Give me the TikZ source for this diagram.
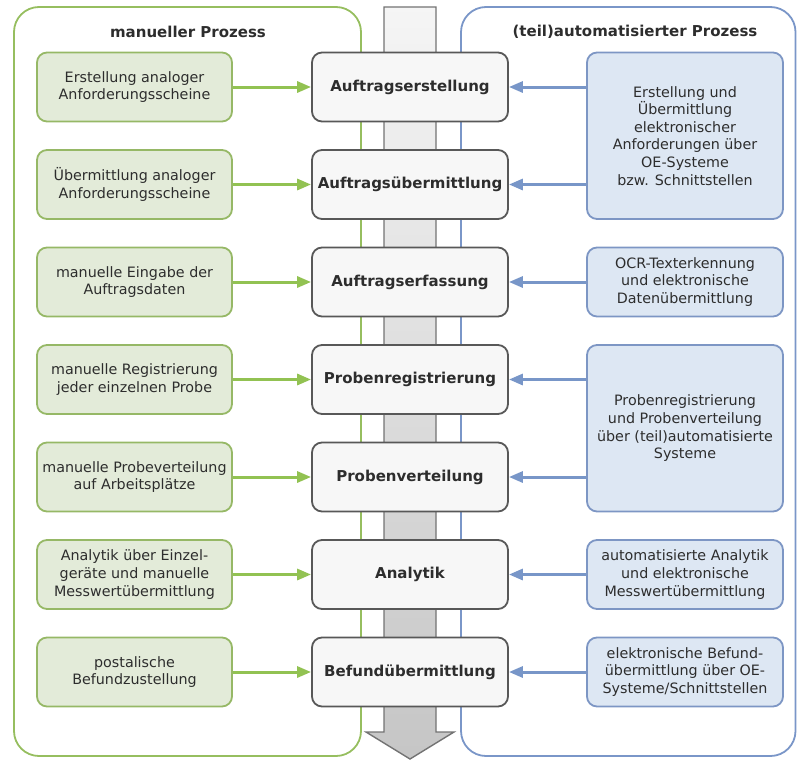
\documentclass[tikz,border=0pt]{standalone}
\usepackage{fontspec}
\setmainfont{DejaVu Sans}
\usetikzlibrary{arrows.meta}

\definecolor{frameGreen}{RGB}{150,190,95}
\definecolor{fillGreen}{RGB}{227,235,217}
\definecolor{drawGreen}{RGB}{150,184,102}
\definecolor{arrowGreen}{RGB}{146,194,82}
\definecolor{frameBlue}{RGB}{122,150,200}
\definecolor{fillBlue}{RGB}{221,231,243}
\definecolor{drawBlue}{RGB}{125,150,196}
\definecolor{arrowBlue}{RGB}{120,150,200}
\definecolor{fillStage}{RGB}{247,247,247}
\definecolor{drawStage}{RGB}{88,88,88}
\definecolor{textGrey}{RGB}{45,45,45}

\tikzset{
  every node/.style={text=textGrey, align=center, inner sep=2pt},
  small/.style={font=\fontsize{14.3}{17.6}\selectfont},
  stage/.style={font=\fontsize{15}{18}\selectfont\bfseries, draw=drawStage, line width=1.8pt,
    fill=fillStage, rounded corners=10pt, minimum width=196pt, minimum height=69pt},
  manual/.style={small, draw=drawGreen, line width=1.8pt, fill=fillGreen,
    rounded corners=10pt, minimum width=195pt, minimum height=69pt},
  auto/.style={small, draw=drawBlue, line width=1.8pt, fill=fillBlue,
    rounded corners=10pt, minimum width=196pt, minimum height=69pt},
  title/.style={font=\fontsize{15}{18}\selectfont\bfseries},
  greenarrow/.style={-{Triangle[length=14pt,width=11pt]}, line width=3pt, draw=arrowGreen},
  bluearrow/.style={-{Triangle[length=14pt,width=11pt]}, line width=3pt, draw=arrowBlue}
}

\begin{document}
\begin{tikzpicture}[x=1pt,y=-1pt]
  \useasboundingbox (0,0) rectangle (797,760);

  % frames
  \draw [frameGreen, line width=1.8pt, rounded corners=25pt] (14,7) rectangle (361,756);
  \draw [frameBlue, line width=1.8pt, rounded corners=25pt] (461,7) rectangle (795.5,756);

  % big grey arrow
  \shadedraw [top color=gray!8, bottom color=gray!45, draw=gray!90!black, line width=1.4pt]
    (384,7) -- (436,7) -- (436,732) -- (454,732) -- (410,759) -- (366,732) -- (384,732) -- cycle;

  \node [title] (mtitle) at (188,32) {manueller Prozess};
  \node [title] (atitle) at (635,32) {(teil)automatisierter Prozess};

  % stages
  \node [stage] (erst) at (410,87) {Auftragserstellung};
  \node [stage] (uebm) at (410,184.5) {Auftragsübermittlung};
  \node [stage] (erf) at (410,282) {Auftragserfassung};
  \node [stage] (reg) at (410,379.5) {Probenregistrierung};
  \node [stage] (vert) at (410,477) {Probenverteilung};
  \node [stage] (ana) at (410,574.5) {Analytik};
  \node [stage] (bef) at (410,672) {Befundübermittlung};

  % manual side
  \node [manual] (m1) at (134.5,87) {Erstellung analoger\\Anforderungsscheine};
  \node [manual] (m2) at (134.5,184.5) {Übermittlung analoger\\Anforderungsscheine};
  \node [manual] (m3) at (134.5,282) {manuelle Eingabe der\\Auftragsdaten};
  \node [manual] (m4) at (134.5,379.5) {manuelle Registrierung\\jeder einzelnen Probe};
  \node [manual] (m5) at (134.5,477) {manuelle Probeverteilung\\auf Arbeitsplätze};
  \node [manual] (m6) at (134.5,574.5) {Analytik über Einzel-\\geräte und manuelle\\Messwertübermittlung};
  \node [manual] (m7) at (134.5,672) {postalische\\Befundzustellung};

  % automated side
  \node [auto, minimum height=166.5pt] (a1) at (685,135.75) {Erstellung und\\Übermittlung\\elektronischer\\Anforderungen über\\OE-Systeme\\bzw. Schnittstellen};
  \node [auto] (a2) at (685,282) {OCR-Texterkennung\\und elektronische\\Datenübermittlung};
  \node [auto, minimum height=166.5pt] (a3) at (685,428.25) {Probenregistrierung\\und Probenverteilung\\über (teil)automatisierte\\Systeme};
  \node [auto] (a4) at (685,574.5) {automatisierte Analytik\\und elektronische\\Messwertübermittlung};
  \node [auto] (a5) at (685,672) {elektronische Befund-\\übermittlung über OE-\\Systeme/Schnittstellen};

  \draw [greenarrow] (m1) -- (erst);
  \draw [greenarrow] (m2) -- (uebm);
  \draw [greenarrow] (m3) -- (erf);
  \draw [greenarrow] (m4) -- (reg);
  \draw [greenarrow] (m5) -- (vert);
  \draw [greenarrow] (m6) -- (ana);
  \draw [greenarrow] (m7) -- (bef);

  \draw [bluearrow] (a1.west |- erst) -- (erst);
  \draw [bluearrow] (a1.west |- uebm) -- (uebm);
  \draw [bluearrow] (a2) -- (erf);
  \draw [bluearrow] (a3.west |- reg) -- (reg);
  \draw [bluearrow] (a3.west |- vert) -- (vert);
  \draw [bluearrow] (a4) -- (ana);
  \draw [bluearrow] (a5) -- (bef);

\end{tikzpicture}
\end{document}
